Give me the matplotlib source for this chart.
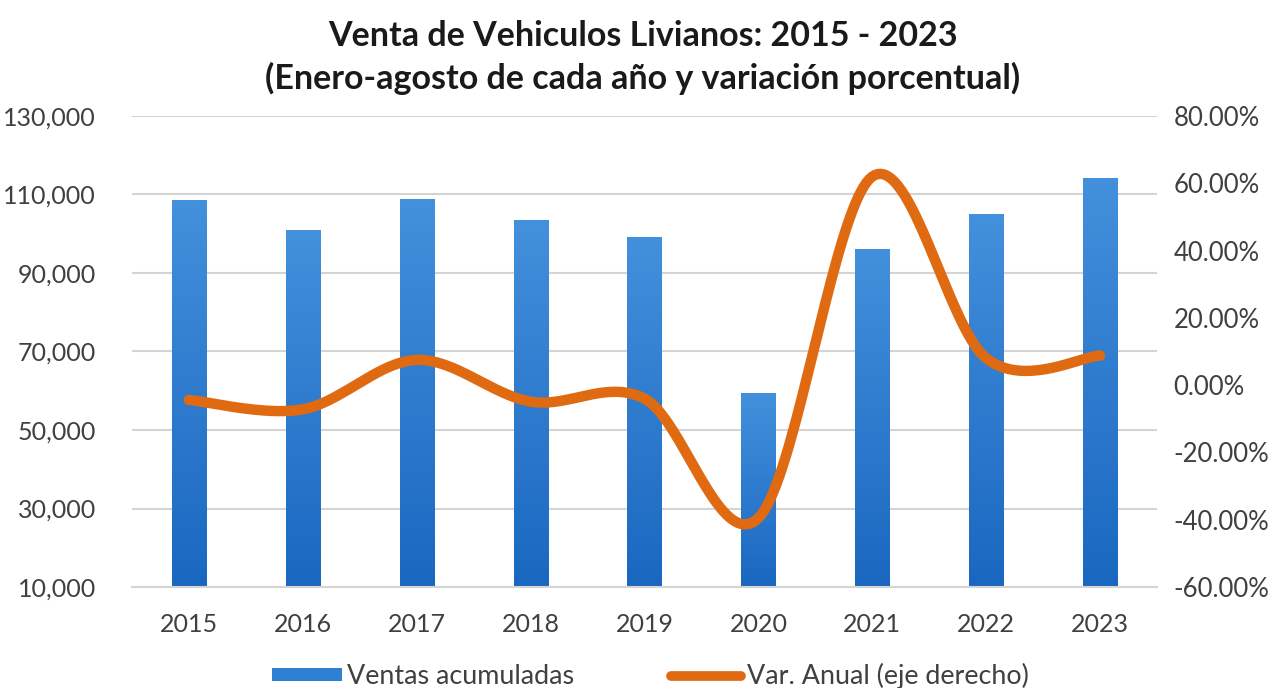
import matplotlib.pyplot as plt
import numpy as np
from matplotlib.lines import Line2D
from matplotlib.patches import Patch
from matplotlib.ticker import FuncFormatter

years = ['2015', '2016', '2017', '2018', '2019', '2020', '2021', '2022', '2023']
ventas = [108500, 100900, 108800, 103500, 99200, 59300, 96100, 105000, 114300]
var_anual = [-4.4, -7.2, 7.5, -4.9, -4.0, -39.5, 62.0, 8.0, 8.8]

plt.rcParams['font.family'] = ['Lato', 'DejaVu Sans']

fig = plt.figure(figsize=(12.85, 6.88), dpi=100)
ax = fig.add_axes([0.1027, 0.1468, 0.7977, 0.6846])
ax2 = ax.twinx()

ymin, ymax = 10000, 130000
x = np.arange(len(years))
bars = ax.bar(x, ventas, width=0.3, color='#2F7FD2', zorder=2)

# vertical gradient inside each bar (lighter on top, darker at bottom)
grad = np.linspace(0, 1, 256).reshape(-1, 1)
cmap = plt.matplotlib.colors.LinearSegmentedColormap.from_list('b', ['#1A67C1', '#4390DC'])
for b in bars:
    x0 = b.get_x()
    im = ax.imshow(grad, extent=[x0, x0 + b.get_width(), ymin, b.get_height()],
                   origin='lower', aspect='auto', cmap=cmap, zorder=2.1)
    im.set_clip_path(b)

ax.set_xlim(-0.5, len(years) - 0.5)
ax.set_ylim(ymin, ymax)
ax.set_yticks(np.arange(ymin, ymax + 1, 20000))
ax.yaxis.set_major_formatter(FuncFormatter(lambda v, p: f'{int(v):,}'))
ax.set_xticks(x)
ax.set_xticklabels(years)
ax.grid(axis='y', color='#D4D4D4', linewidth=1.5, zorder=0)
ax.set_axisbelow(True)
for s in ax.spines.values():
    s.set_visible(False)
ax.spines['bottom'].set_visible(True)
ax.spines['bottom'].set_color('#D4D4D4')
ax.spines['bottom'].set_linewidth(1.5)
ax.tick_params(axis='y', length=0, pad=26, labelsize=18, labelcolor='#404040')
ax.tick_params(axis='x', length=0, pad=19, labelsize=18, labelcolor='#404040')

# smooth line (Catmull-Rom through the yearly points, like Excel's smoothed line)
px = np.array(x, dtype=float)
py = np.array(var_anual, dtype=float)
P = np.column_stack([px, py])
P = np.vstack([P[0], P, P[-1]])
sx, sy = [], []
t = np.linspace(0, 1, 40)
for i in range(1, len(P) - 2):
    p0, p1, p2, p3 = P[i - 1], P[i], P[i + 1], P[i + 2]
    c1 = p1 + (p2 - p0) / 6
    c2 = p2 - (p3 - p1) / 6
    pts = ((1 - t) ** 3)[:, None] * p1 + (3 * (1 - t) ** 2 * t)[:, None] * c1 \
        + (3 * (1 - t) * t ** 2)[:, None] * c2 + (t ** 3)[:, None] * p2
    sx.extend(pts[:, 0])
    sy.extend(pts[:, 1])
ax2.plot(sx, sy, color='#E06A12', linewidth=7.5, solid_capstyle='round', zorder=3)

ax2.set_ylim(-60, 80)
ax2.set_yticks(np.arange(-60, 81, 20))
ax2.yaxis.set_major_formatter(FuncFormatter(lambda v, p: f'{v:.2f}%'))
for s in ax2.spines.values():
    s.set_visible(False)
ax2.tick_params(axis='y', length=0, pad=12, labelsize=18.5, labelcolor='#404040')

fig.text(0.5, 0.948, 'Venta de Vehiculos Livianos: 2015 - 2023', ha='center', va='center',
         fontsize=24.5, fontweight='bold', color='#1A1A1A')
fig.text(0.5, 0.886, '(Enero-agosto de cada año y variación porcentual)', ha='center', va='center',
         fontsize=24.5, fontweight='bold', color='#1A1A1A')

handles = [Patch(facecolor='#2F7FD2', edgecolor='none'),
           Line2D([0], [0], color='#E06A12', linewidth=7, solid_capstyle='round')]
fig.legend(handles, ['Ventas acumuladas', 'Var. Anual (eje derecho)'], loc='center',
           bbox_to_anchor=(0.506, 0.017), ncol=2, frameon=False, fontsize=19.4,
           handlelength=2.6, handleheight=0.35, handletextpad=0.2, columnspacing=3.6,
           labelcolor='#404040', borderpad=0)

plt.savefig('out.png', dpi=100)
